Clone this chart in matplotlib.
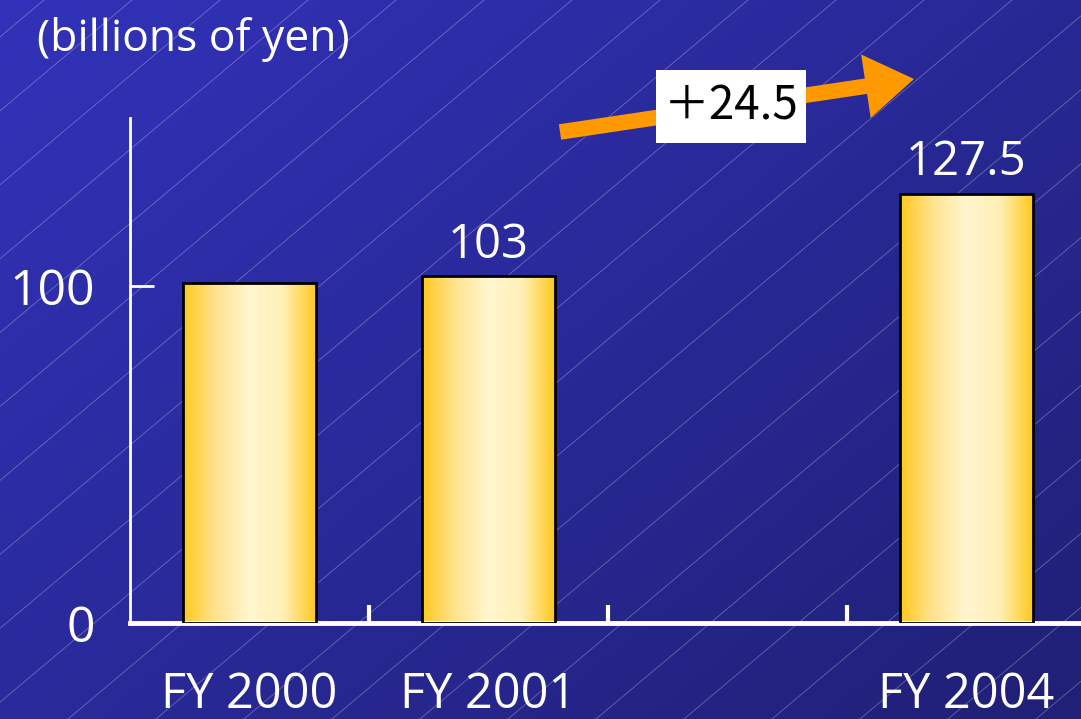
import numpy as np
import matplotlib
matplotlib.use("Agg")
import matplotlib.pyplot as plt
from matplotlib.colors import LinearSegmentedColormap
from matplotlib.patches import Rectangle, FancyArrowPatch

categories = ["FY 2000", "FY 2001", "", "FY 2004"]
values = [101, 103, None, 127.5]
value_labels = ["", "103", "", "127.5"]
unit_label = "(billions of yen)"
change_label = "＋24.5"
yticks = [0, 100]

W, H = 1081, 719
fig = plt.figure(figsize=(W / 100, H / 100), dpi=100)

# background gradient
bg = fig.add_axes([0, 0, 1, 1])
yy, xx = np.mgrid[0:1:200j, 0:1:300j]
t = 0.55 * xx + 0.45 * yy
c0 = np.array([50, 50, 186]) / 255
c1 = np.array([32, 32, 118]) / 255
img = c0[None, None, :] * (1 - t[..., None]) + c1[None, None, :] * t[..., None]
bg.imshow(img, extent=(0, W, H, 0), aspect="auto")
slope = 0.84
for x0 in np.arange(-900, W + 200, 88):
    xs = np.array([x0, x0 + H / slope])
    ys = np.array([H, 0])
    bg.plot(xs, ys, color="white", alpha=0.3, lw=0.6)
bg.set_xlim(0, W)
bg.set_ylim(H, 0)
bg.axis("off")

font = "Open Sans"
left, right = 130 / W, 1086 / W
bottom, top = 1 - 623 / H, 1 - 118 / H
ax = fig.add_axes([left, bottom, right - left, top - bottom])
ax.patch.set_alpha(0)
ax.set_xlim(-0.5, 3.5)
ax.set_ylim(0, 150)

gold = LinearSegmentedColormap.from_list(
    "gold", ["#FFC81E", "#FFE390", "#FFF6CF", "#FFF0B8", "#FFC81E"])
grad = np.linspace(0, 1, 256)[None, :]
width = 0.556
xpos = np.arange(len(categories))
for x, v, lab in zip(xpos, values, value_labels):
    if v is None:
        continue
    b = ax.bar(x, v, width=width, facecolor="none", edgecolor="black", lw=2, zorder=3)[0]
    im = ax.imshow(grad, cmap=gold, extent=(x - width / 2, x + width / 2, 0, v),
                   aspect="auto", zorder=2)
    im.set_clip_path(b)
    if lab:
        ax.text(x, v + 5.5, lab, ha="center", va="baseline", color="white",
                fontsize=34, family=font, zorder=4)

ax.set_xlim(-0.5, 3.5)
ax.set_ylim(0, 150)

for s in ["top", "right"]:
    ax.spines[s].set_visible(False)
for s in ["left", "bottom"]:
    ax.spines[s].set_color("white")
ax.spines["left"].set_linewidth(2)
ax.spines["bottom"].set_linewidth(3.5)

ax.set_yticks(yticks)
ax.set_yticklabels([str(v) for v in yticks], color="white", fontsize=36, family=font)
ax.tick_params(axis="y", direction="in", length=17, width=2, color="white", pad=-2)
for lbl in ax.get_yticklabels():
    lbl.set_x(-0.04)

ax.set_xticks(xpos)
ax.set_xticklabels(categories, color="white", fontsize=35, family=font)
ax.tick_params(axis="x", which="major", length=0, pad=34)
ax.set_xticks(np.arange(0.5, 3.0, 1.0), minor=True)
ax.tick_params(axis="x", which="minor", direction="in", length=13, width=3, color="white")

fig.text(37 / W, 1 - 40 / H, unit_label, ha="left", va="center", color="white",
         fontsize=32, family=font)

# growth arrow
fig.add_artist(FancyArrowPatch(
    (560 / W, 1 - 132 / H), (914 / W, 1 - 79 / H), transform=fig.transFigure,
    arrowstyle="simple,head_length=2.5,head_width=3.3,tail_width=0.8",
    mutation_scale=14, color="#FF9900", lw=0, shrinkA=0, shrinkB=0))
fig.add_artist(Rectangle((656 / W, 1 - 143 / H), 150 / W, 73 / H,
                         transform=fig.transFigure, facecolor="white", edgecolor="none"))
fig.text(731 / W, 1 - 106 / H, change_label, ha="center", va="center", color="black",
         fontsize=33, family=["Noto Sans CJK JP", "DejaVu Sans"])

fig.savefig("out.png", dpi=100)
